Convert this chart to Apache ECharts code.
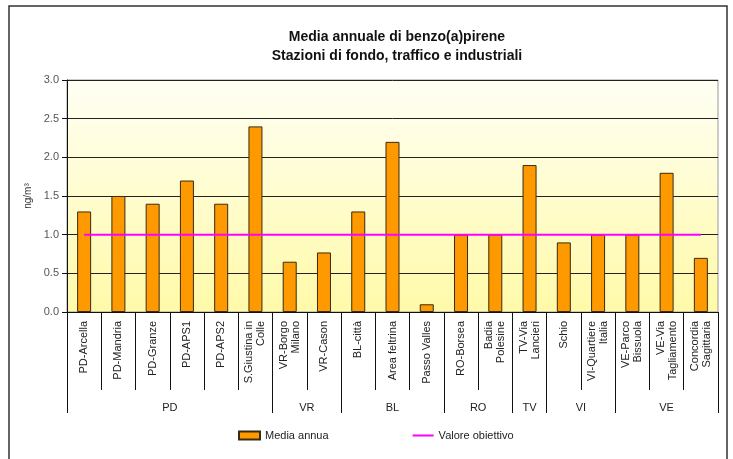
<!DOCTYPE html>
<html>
<head>
<meta charset="utf-8">
<script src="https://cdn.jsdelivr.net/npm/echarts@6/dist/echarts.min.js"></script>
<style>
  html, body { margin: 0; padding: 0; background: #fff; }
  #chart { width: 733px; height: 459px; }
</style>
</head>
<body>
<div id="chart"></div>
<script>
// stazioni (asse x) e valori medi annui in ng/m3
var stations = [
  'PD-Arcella', 'PD-Mandria', 'PD-Granze', 'PD-APS1', 'PD-APS2', 'S.Giustina in\nColle',
  'VR-Borgo\nMilano', 'VR-Cason',
  'BL-città', 'Area feltrina', 'Passo Valles',
  'RO-Borsea', 'Badia\nPolesine',
  'TV-Via\nLancieri',
  'Schio', 'VI-Quartiere\nItalia',
  'VE-Parco\nBissuola', 'VE-Via\nTagliamento', 'Concordia\nSagittaria'
];
var mediaAnnua = [1.3, 1.5, 1.4, 1.7, 1.4, 2.4, 0.65, 0.77, 1.3, 2.2, 0.1, 1.0, 1.0, 1.9, 0.9, 1.0, 1.0, 1.8, 0.7];
var valoreObiettivo = [1.0, 1.0, 1.0, 1.0, 1.0, 1.0, 1.0, 1.0, 1.0, 1.0, 1.0, 1.0, 1.0, 1.0, 1.0, 1.0, 1.0, 1.0, 1.0];

// province: nome e numero di stazioni
var provinces = ['PD', 'VR', 'BL', 'RO', 'TV', 'VI', 'VE'];
var provinceSizes = [6, 2, 3, 2, 1, 2, 3];

var yTicks = [0, 0.5, 1.0, 1.5, 2.0, 2.5, 3.0];

// asse delle province: mezze posizioni (0, 0.5, ... 19) -> 39 punti
var halfSlots = [];
var boundaries = {};
for (var i = 0; i <= stations.length * 2; i++) halfSlots.push('');
var pos = 0;
boundaries[0] = true;
provinces.forEach(function (p, k) {
  halfSlots[pos * 2 + provinceSizes[k]] = p;
  pos += provinceSizes[k];
  boundaries[pos * 2] = true;
});

var chart = echarts.init(document.getElementById('chart'));
var font = 'Liberation Sans, Arial, sans-serif';

chart.setOption({
  animation: false,
  textStyle: { fontFamily: font },
  title: {
    text: 'Media annuale di benzo(a)pirene\nStazioni di fondo, traffico e industriali',
    left: 392, top: 23, textAlign: 'center',
    textStyle: { fontSize: 14, fontWeight: 'bold', color: '#111', lineHeight: 19, fontFamily: font }
  },
  graphic: [{
    type: 'rect', silent: true,
    shape: { x: 9, y: 6, width: 718, height: 470 },
    style: { fill: 'none', stroke: '#333', lineWidth: 1.5 }
  }],
  legend: {
    bottom: 13, left: 233, itemGap: 84, itemWidth: 21, itemHeight: 8,
    textStyle: { fontSize: 11, color: '#222', fontFamily: font },
    data: [
      { name: 'Media annua', icon: 'rect' },
      { name: 'Valore obiettivo', icon: 'path://M0,0 L21,0 L21,2 L0,2 Z', itemStyle: { color: '#ff00ff' } }
    ]
  },
  grid: {
    left: 67, right: 15, top: 80, height: 232,
    show: true, borderColor: '#999', borderWidth: 1,
    backgroundColor: new echarts.graphic.LinearGradient(0, 0, 0, 1, [
      { offset: 0, color: '#fffff4' },
      { offset: 1, color: '#fffaa8' }
    ])
  },
  xAxis: [{
    type: 'category',
    data: stations,
    axisLine: { show: true, lineStyle: { color: '#111', width: 1 } },
    axisTick: { show: true, interval: 0, length: 78, lineStyle: { color: '#111' } },
    axisLabel: {
      interval: 0, rotate: 90, margin: 9, fontSize: 11, lineHeight: 12,
      color: '#222', fontFamily: font
    }
  }, {
    type: 'category',
    data: halfSlots,
    boundaryGap: false,
    position: 'bottom',
    axisLine: { show: false },
    axisTick: {
      show: true, length: 101,
      interval: function (idx) { return !!boundaries[idx]; },
      lineStyle: { color: '#111' }
    },
    axisLabel: {
      interval: 0, margin: 90, fontSize: 11, color: '#222', fontFamily: font
    }
  }],
  yAxis: {
    type: 'value',
    min: yTicks[0], max: yTicks[yTicks.length - 1], interval: 0.5,
    name: 'ng/m³', nameLocation: 'middle', nameRotate: 90, nameGap: 32,
    nameTextStyle: { fontSize: 10, color: '#333', fontFamily: font },
    axisLine: { show: true, lineStyle: { color: '#111' } },
    axisTick: { show: true, length: 5, lineStyle: { color: '#111' } },
    axisLabel: {
      fontSize: 11, color: '#555', margin: 8, fontFamily: font,
      formatter: function (v) { return v.toFixed(1); }
    },
    splitLine: { show: true, lineStyle: { color: '#222', width: 1 } }
  },
  series: [{
    name: 'Media annua',
    type: 'bar',
    data: mediaAnnua,
    barWidth: 14,
    itemStyle: { color: '#ff9900', borderColor: '#3a2a12', borderWidth: 1 }
  }, {
    name: 'Valore obiettivo',
    type: 'line',
    data: valoreObiettivo,
    symbol: 'none',
    lineStyle: { color: '#ff00ff', width: 2 },
    itemStyle: { color: '#ff00ff' }
  }]
});
</script>
</body>
</html>
